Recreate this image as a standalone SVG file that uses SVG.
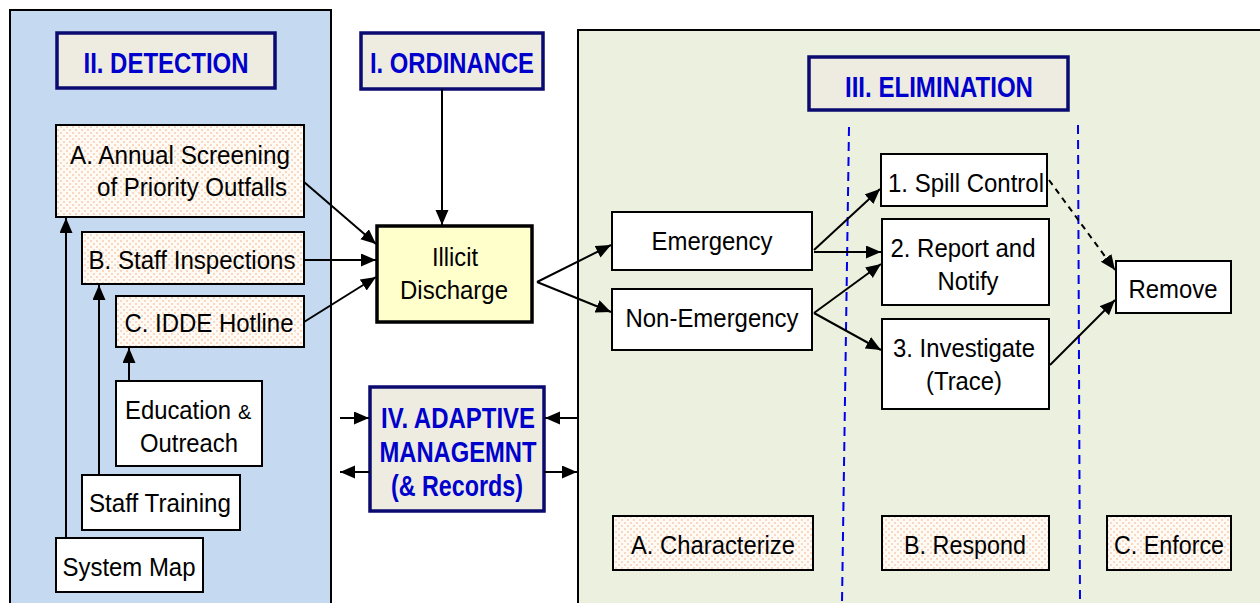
<svg xmlns="http://www.w3.org/2000/svg" width="1260" height="603" viewBox="0 0 1260 603">
<defs>
<pattern id="dots" width="6" height="6" patternUnits="userSpaceOnUse">
<rect width="6" height="6" fill="#fffaf4"/>
<rect x="0" y="0" width="2" height="2" fill="#f8d8c2"/>
<rect x="3" y="3" width="2" height="2" fill="#f8d8c2"/>
</pattern>
<marker id="ah" markerUnits="userSpaceOnUse" markerWidth="16" markerHeight="14" refX="15" refY="6.5" orient="auto">
<path d="M0,0 L15,6.5 L0,13 z" fill="#000"/>
</marker>
<style>
.t{font-family:"Liberation Sans",Arial,sans-serif;font-size:25.5px;fill:#000;text-anchor:middle}
.h{font-family:"Liberation Sans",Arial,sans-serif;font-size:29px;font-weight:bold;fill:#0000cc;text-anchor:middle}
.title{fill:#eeece1;stroke:#0a0a70;stroke-width:3.5}
.pat{fill:url(#dots);stroke:#000;stroke-width:2}
.wb{fill:#fff;stroke:#000;stroke-width:2}
.ca{stroke:#000;stroke-width:2;fill:none;marker-end:url(#ah)}
.div{stroke:#0000ee;stroke-width:2;stroke-dasharray:9,6;fill:none}
</style>
</defs>

<g id="panels">
<rect id="detection-panel" x="10" y="10" width="321" height="600" fill="#c5d9f1" stroke="#000" stroke-width="2"/>
<rect id="elimination-panel" x="578" y="30" width="690" height="580" fill="#ebf1de" stroke="#000" stroke-width="2"/>
<path class="div" d="M849,127 L842,603"/>
<path class="div" d="M1078,125 L1080,603"/>
</g>

<g id="detection-title"><rect class="title" x="57" y="33" width="218" height="55"/><text class="h" x="166" y="73" textLength="165" lengthAdjust="spacingAndGlyphs">II. DETECTION</text></g>
<g id="ordinance-title"><rect class="title" x="361" y="33" width="182" height="56"/><text class="h" x="452" y="73" textLength="164" lengthAdjust="spacingAndGlyphs">I. ORDINANCE</text></g>
<g id="elimination-title"><rect class="title" x="809" y="57" width="259" height="53"/><text class="h" x="939" y="97" textLength="188" lengthAdjust="spacingAndGlyphs">III. ELIMINATION</text></g>
<g id="adaptive"><rect class="title" x="370" y="387" width="174" height="124"/>
<text class="h" x="458" y="428" textLength="154" lengthAdjust="spacingAndGlyphs">IV. ADAPTIVE</text>
<text class="h" x="458" y="462" textLength="157" lengthAdjust="spacingAndGlyphs">MANAGEMNT</text>
<text class="h" x="457" y="496" textLength="132" lengthAdjust="spacingAndGlyphs">(&amp; Records)</text></g>

<g id="annual-screening"><rect class="pat" x="56" y="125" width="248" height="92"/><text class="t" x="180" y="164" textLength="220" lengthAdjust="spacingAndGlyphs">A. Annual Screening</text><text class="t" x="192" y="196" textLength="190" lengthAdjust="spacingAndGlyphs">of Priority Outfalls</text></g>
<g id="staff-inspections"><rect class="pat" x="82" y="232" width="222" height="52"/><text class="t" x="192" y="269" textLength="207" lengthAdjust="spacingAndGlyphs">B. Staff Inspections</text></g>
<g id="idde-hotline"><rect class="pat" x="116" y="296" width="188" height="51"/><text class="t" x="209" y="332" textLength="169" lengthAdjust="spacingAndGlyphs">C. IDDE Hotline</text></g>
<g id="education"><rect class="wb" x="116" y="381" width="146" height="85"/><text class="t" x="125" y="419" style="text-anchor:start" textLength="106" lengthAdjust="spacingAndGlyphs">Education</text><text class="t" x="238" y="419" style="text-anchor:start;font-size:20px">&amp;</text><text class="t" x="189" y="452" textLength="98" lengthAdjust="spacingAndGlyphs">Outreach</text></g>
<g id="staff-training"><rect class="wb" x="82" y="475" width="158" height="55"/><text class="t" x="160" y="512" textLength="142" lengthAdjust="spacingAndGlyphs">Staff Training</text></g>
<g id="system-map"><rect class="wb" x="56" y="538" width="147" height="54"/><text class="t" x="129" y="576" textLength="133" lengthAdjust="spacingAndGlyphs">System Map</text></g>

<g id="illicit-discharge"><rect x="377" y="226" width="155" height="96" fill="#ffffcc" stroke="#000" stroke-width="3.5"/><text class="t" x="455" y="266" textLength="46" lengthAdjust="spacingAndGlyphs">Illicit</text><text class="t" x="454" y="299" textLength="108" lengthAdjust="spacingAndGlyphs">Discharge</text></g>

<g id="emergency"><rect class="wb" x="612" y="212" width="200" height="58"/><text class="t" x="712" y="250" textLength="121" lengthAdjust="spacingAndGlyphs">Emergency</text></g>
<g id="non-emergency"><rect class="wb" x="612" y="289" width="200" height="61"/><text class="t" x="712" y="327" textLength="173" lengthAdjust="spacingAndGlyphs">Non-Emergency</text></g>
<g id="spill-control"><rect class="wb" x="881" y="154" width="166" height="52"/><text class="t" x="966" y="192" textLength="156" lengthAdjust="spacingAndGlyphs">1. Spill Control</text></g>
<g id="report-notify"><rect class="wb" x="882" y="219" width="167" height="86"/><text class="t" x="963" y="257" textLength="145" lengthAdjust="spacingAndGlyphs">2. Report and</text><text class="t" x="968" y="290" textLength="61" lengthAdjust="spacingAndGlyphs">Notify</text></g>
<g id="investigate"><rect class="wb" x="882" y="319" width="167" height="90"/><text class="t" x="964" y="357" textLength="142" lengthAdjust="spacingAndGlyphs">3. Investigate</text><text class="t" x="964" y="390" textLength="76" lengthAdjust="spacingAndGlyphs">(Trace)</text></g>
<g id="remove"><rect class="wb" x="1116" y="261" width="115" height="52"/><text class="t" x="1173" y="298" textLength="89" lengthAdjust="spacingAndGlyphs">Remove</text></g>

<g id="characterize"><rect class="pat" x="613" y="516" width="200" height="54"/><text class="t" x="713" y="554" textLength="164" lengthAdjust="spacingAndGlyphs">A. Characterize</text></g>
<g id="respond"><rect class="pat" x="882" y="516" width="167" height="54"/><text class="t" x="965" y="554" textLength="122" lengthAdjust="spacingAndGlyphs">B. Respond</text></g>
<g id="enforce"><rect class="pat" x="1107" y="516" width="124" height="54"/><text class="t" x="1169" y="554" textLength="110" lengthAdjust="spacingAndGlyphs">C. Enforce</text></g>

<g id="connectors">
<path class="ca" d="M66,538 L66,218"/>
<path class="ca" d="M99,475 L99,285"/>
<path class="ca" d="M129,381 L129,348"/>
<path class="ca" d="M442,89 L442,225"/>
<path class="ca" d="M304,182 L376,244"/>
<path class="ca" d="M304,260 L376,260"/>
<path class="ca" d="M304,322 L376,277"/>
<path class="ca" d="M537,282 L611,245"/>
<path class="ca" d="M537,282 L611,312"/>
<path class="ca" d="M814,250 L880,189"/>
<path class="ca" d="M814,252 L881,252"/>
<path class="ca" d="M814,313 L881,264"/>
<path class="ca" d="M814,313 L881,350"/>
<path class="ca" d="M1049,180 L1115,270" stroke-dasharray="6,5"/>
<path class="ca" d="M1050,365 L1115,300"/>
<path class="ca" d="M340,418 L369,418"/>
<path class="ca" d="M370,472 L340,472"/>
<path class="ca" d="M578,418 L545,418"/>
<path class="ca" d="M544,472 L577,472"/>
</g>
</svg>
